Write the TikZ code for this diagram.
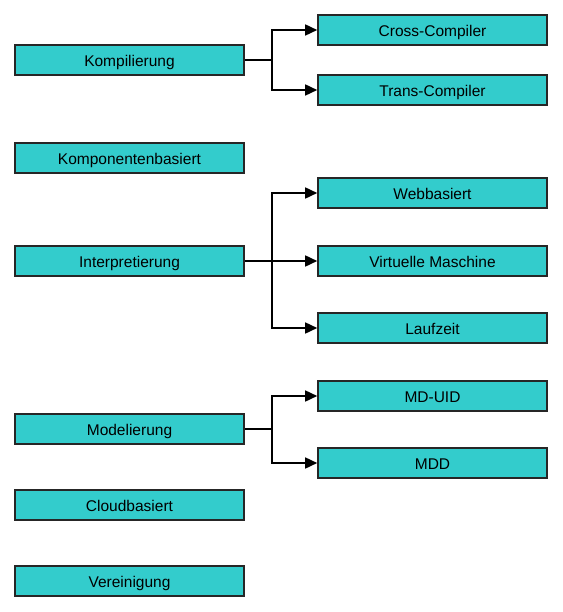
\documentclass[tikz,border=0pt]{standalone}
\usepackage{fontspec}
\setmainfont{Liberation Sans}
\usetikzlibrary{arrows.meta}
\definecolor{boxfill}{HTML}{33CCCC}
\begin{document}
\begin{tikzpicture}[x=1pt,y=-1pt,
  box/.style={draw=black!85,line width=1.6pt,fill=boxfill,minimum width=229pt,minimum height=30pt,inner sep=0pt,text height=13pt,text depth=0pt,font=\fontsize{15.5}{18}\selectfont},
  conn/.style={line width=1.6pt,-{Triangle[length=12pt,width=11pt]}},
  trunk/.style={line width=2pt}]
\useasboundingbox (0,0) rectangle (562,612);
\node[box] (komp) at (129.5,60) {Kompilierung};
\node[box] (kompb) at (129.5,158) {Komponentenbasiert};
\node[box] (interp) at (129.5,261) {Interpretierung};
\node[box] (model) at (129.5,429) {Modelierung};
\node[box] (cloud) at (129.5,505) {Cloudbasiert};
\node[box] (verein) at (129.5,581) {Vereinigung};
\node[box] (cross) at (432.5,30) {Cross-Compiler};
\node[box] (trans) at (432.5,90) {Trans-Compiler};
\node[box] (web) at (432.5,193) {Webbasiert};
\node[box] (vm) at (432.5,261) {Virtuelle Maschine};
\node[box] (lauf) at (432.5,328) {Laufzeit};
\node[box] (mduid) at (432.5,396) {MD-UID};
\node[box] (mdd) at (432.5,463) {MDD};
\coordinate (j1) at (272,60);
\coordinate (j2) at (272,261);
\coordinate (j3) at (272,429);
\draw[trunk] (komp.east) -- (j1);
\draw[conn] (j1) |- (cross.west);
\draw[conn] (j1) |- (trans.west);
\draw[trunk] (interp.east) -- (j2);
\draw[conn] (j2) |- (web.west);
\draw[conn] (j2) -- (vm.west);
\draw[conn] (j2) |- (lauf.west);
\draw[trunk] (model.east) -- (j3);
\draw[conn] (j3) |- (mduid.west);
\draw[conn] (j3) |- (mdd.west);
\end{tikzpicture}
\end{document}
